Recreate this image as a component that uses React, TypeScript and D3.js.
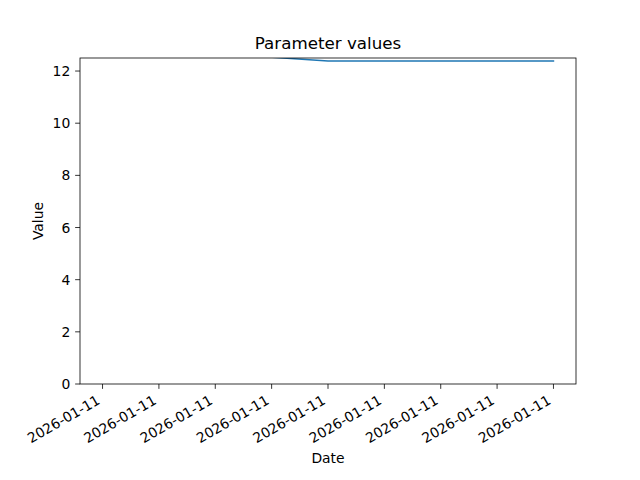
import { useEffect, useRef } from "react"
import * as d3 from "d3"

// nine samples, all on the same day (labels collapse to the date)
const dates = [
  "2026-01-11T12:00:00",
  "2026-01-11T12:00:10",
  "2026-01-11T12:00:20",
  "2026-01-11T12:00:30",
  "2026-01-11T12:00:40",
  "2026-01-11T12:00:50",
  "2026-01-11T12:01:00",
  "2026-01-11T12:01:10",
  "2026-01-11T12:01:20",
]
const values = [12.53, 12.53, 12.53, 12.53, 12.385, 12.385, 12.385, 12.385, 12.385]
const yTicks = [0, 2, 4, 6, 8, 10, 12]

export default function App() {
  const svgRef = useRef<SVGSVGElement>(null)

  useEffect(() => {
    if (!svgRef.current) return

    const width = 640
    const height = 480
    const margin = { top: 58, right: 64, bottom: 96, left: 80 }
    const font = "DejaVu Sans, sans-serif"
    const tickLen = 4.86
    const tickPad = 4.86

    d3.select(svgRef.current).selectAll("*").remove()

    const svg = d3
      .select(svgRef.current)
      .attr("width", width)
      .attr("height", height)

    svg.append("rect").attr("width", width).attr("height", height).attr("fill", "#fff")

    const parsed = dates.map((d) => new Date(d))
    const [d0, d1] = d3.extent(parsed) as [Date, Date]
    const span = d1.getTime() - d0.getTime()

    const x = d3
      .scaleTime()
      .domain([new Date(d0.getTime() - span * 0.05), new Date(d1.getTime() + span * 0.05)])
      .range([margin.left, width - margin.right])

    const y = d3
      .scaleLinear()
      .domain([0, 12.5])
      .range([height - margin.bottom, margin.top])

    const bottom = height - margin.bottom

    // clip to the axes box
    svg
      .append("clipPath")
      .attr("id", "plot-clip")
      .append("rect")
      .attr("x", margin.left)
      .attr("y", margin.top)
      .attr("width", width - margin.left - margin.right)
      .attr("height", height - margin.top - margin.bottom)

    const line = d3
      .line<number>()
      .x((_, i) => x(parsed[i]))
      .y((d) => y(d))

    svg
      .append("path")
      .datum(values)
      .attr("clip-path", "url(#plot-clip)")
      .attr("fill", "none")
      .attr("stroke", "#1f77b4")
      .attr("stroke-width", 1.5)
      .attr("stroke-linejoin", "round")
      .attr("stroke-linecap", "square")
      .attr("d", line)

    // Y axis ticks
    const yAxis = svg.append("g").attr("font-family", font).attr("font-size", 13.9)
    yTicks.forEach((t) => {
      yAxis
        .append("line")
        .attr("x1", margin.left - tickLen)
        .attr("x2", margin.left)
        .attr("y1", y(t))
        .attr("y2", y(t))
        .attr("stroke", "#000")
        .attr("stroke-width", 0.8)
      yAxis
        .append("text")
        .attr("x", margin.left - tickLen - tickPad)
        .attr("y", y(t))
        .attr("dy", "0.36em")
        .attr("text-anchor", "end")
        .text(d3.format("d")(t))
    })

    // X axis ticks, rotated labels
    const fmt = d3.timeFormat("%Y-%m-%d")
    const xAxis = svg.append("g").attr("font-family", font).attr("font-size", 13.9)
    parsed.forEach((d) => {
      xAxis
        .append("line")
        .attr("x1", x(d))
        .attr("x2", x(d))
        .attr("y1", bottom)
        .attr("y2", bottom + tickLen)
        .attr("stroke", "#000")
        .attr("stroke-width", 0.8)
      xAxis
        .append("text")
        .attr("transform", `translate(${x(d) - 1.6},${bottom + tickLen + tickPad + 9.4}) rotate(-30)`)
        .attr("text-anchor", "end")
        .text(fmt(d))
    })

    // spines
    svg
      .append("rect")
      .attr("x", margin.left)
      .attr("y", margin.top)
      .attr("width", width - margin.left - margin.right)
      .attr("height", height - margin.top - margin.bottom)
      .attr("fill", "none")
      .attr("stroke", "#000")
      .attr("stroke-width", 0.8)

    const cx = (margin.left + width - margin.right) / 2

    svg
      .append("text")
      .attr("x", cx)
      .attr("y", 49)
      .attr("text-anchor", "middle")
      .attr("font-family", font)
      .attr("font-size", 16.7)
      .text("Parameter values")

    svg
      .append("text")
      .attr("x", cx)
      .attr("y", 463)
      .attr("text-anchor", "middle")
      .attr("font-family", font)
      .attr("font-size", 13.9)
      .text("Date")

    svg
      .append("text")
      .attr("transform", `translate(43,${(margin.top + bottom) / 2}) rotate(-90)`)
      .attr("text-anchor", "middle")
      .attr("font-family", font)
      .attr("font-size", 13.9)
      .text("Value")
  }, [])

  return <svg ref={svgRef} style={{ position: "absolute", left: 0, top: 0 }} />
}
